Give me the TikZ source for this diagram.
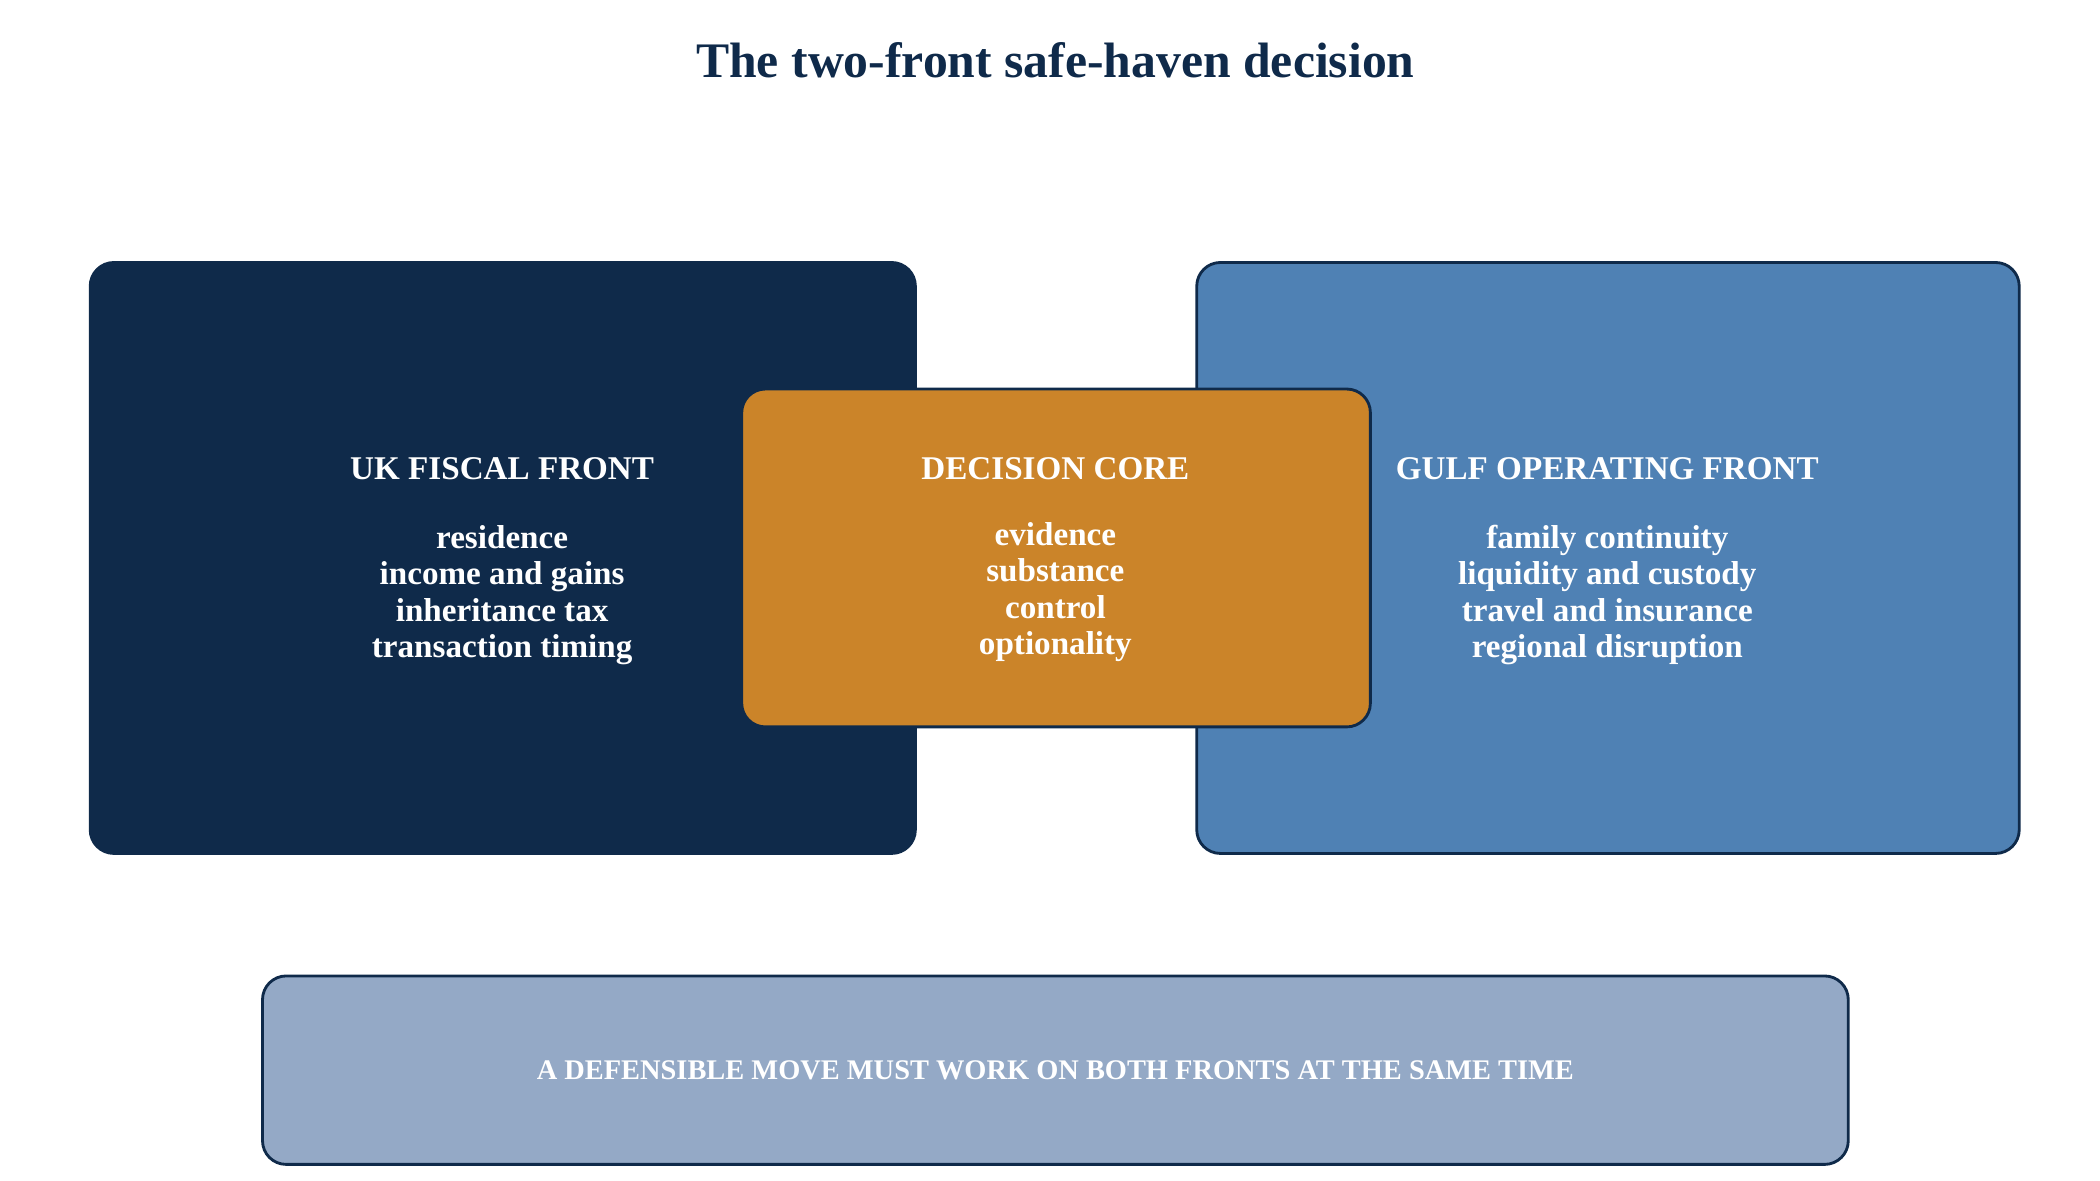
\documentclass[tikz,border=0pt]{standalone}
\usepackage{fontspec}
\setmainfont{Liberation Serif}
\definecolor{navy}{HTML}{0F2A4A}
\definecolor{steel}{HTML}{4F81B4}
\definecolor{amber}{HTML}{CB8429}
\definecolor{haze}{HTML}{94A9C6}
\begin{document}
\begin{tikzpicture}
[x=0.01cm, y=-0.01cm, line width=0.6pt,
 panel/.style={draw=navy, rounded corners=5pt},
 body/.style={text=white, font=\bfseries\fontsize{7}{7.7}\selectfont, align=center}]
\useasboundingbox (0,0) rectangle (1560,877);
\node (title) at (784, 45) [text=navy, font=\bfseries\fontsize{10.5}{12}\selectfont] {The two-front safe-haven decision};
%% fronts
\draw[panel, fill=navy]  (67, 195) rectangle (680, 634);  %% UK
\draw[panel, fill=steel] (889, 195) rectangle (1500, 634); %% Gulf
\draw[panel, fill=amber] (551, 289) rectangle (1018, 540); %% core
\node (uk) at (373, 348) [body] {UK FISCAL FRONT};
\node (uklist) at (373, 442) [body] {residence\\income and gains\\inheritance tax\\transaction timing};
\node (core) at (784, 348) [body] {DECISION CORE};
\node (corelist) at (784, 440) [body] {evidence\\substance\\control\\optionality};
\node (gulf) at (1194, 348) [body] {GULF OPERATING FRONT};
\node (gulflist) at (1194, 442) [body] {family continuity\\liquidity and custody\\travel and insurance\\regional disruption};
%% footer
\draw[panel, fill=haze] (195, 725) rectangle (1373, 865);
\node (rule) at (784, 795) [text=white, font=\bfseries\fontsize{6}{7}\selectfont] {A DEFENSIBLE MOVE MUST WORK ON BOTH FRONTS AT THE SAME TIME};
\end{tikzpicture}
\end{document}
